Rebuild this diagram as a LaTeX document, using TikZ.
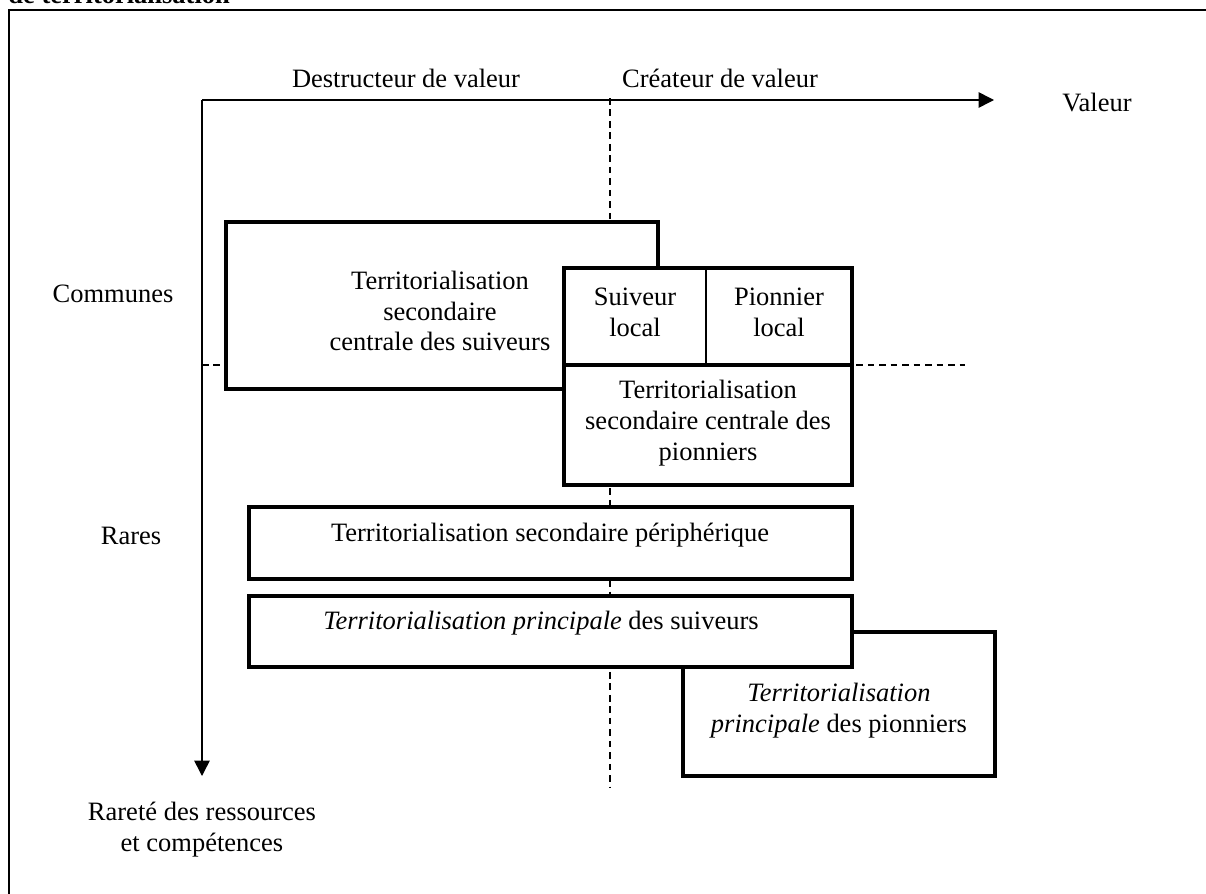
\documentclass[tikz,border=0pt]{standalone}
\usepackage{fontspec}
\setmainfont{Liberation Serif}
\usetikzlibrary{arrows.meta, positioning}

\tikzset{
  lbl/.style={font=\fontsize{12}{14}\selectfont, align=center, inner sep=0pt},
  box/.style={line width=1.4pt, fill=white},
  axis/.style={line width=0.7pt, -{Triangle[length=7pt,width=7pt]}},
  guide/.style={line width=0.5pt, dash pattern=on 3pt off 2.2pt}
}

\begin{document}
\begin{tikzpicture}[x=0.453pt, y=-0.453pt]
\useasboundingbox (0,0) rectangle (1206,893);
% frame and cut title
\draw[line width=0.9pt] (9,1000) -- (9,10) -- (1300,10);
\node[anchor=base west, inner sep=0pt, font=\fontsize{12}{14}\selectfont\bfseries] (title) at (8,4) {de territorialisation};

% axes
\coordinate (o) at (202,100);
\coordinate (xend) at (994,100);
\coordinate (yend) at (202,776);
\draw[axis] (o) -- (xend);
\draw[axis] (o) -- (yend);
\draw[guide] (610,98) -- (610,788);
\draw[guide] (202,365) -- (965,365);

% axis labels
\node[lbl] (destr) at (406,78) {Destructeur de valeur};
\node[lbl] (creat) at (720,78) {Créateur de valeur};
\node[lbl, anchor=west] (valeur) at (1062,103) {Valeur};
\node[lbl] (communes) at (113,294) {Communes};
\node[lbl] (rares) at (131,536) {Rares};
\node[lbl] (rarete) at (202,830) {Rareté des ressources\\et compétences};

% secondary, central
\draw[box] (226,222) rectangle (658,389);
\node[lbl] (secsuiv) at (440,311) {Territorialisation\\secondaire\\centrale des suiveurs};
\draw[box] (564,268) rectangle (852,485);
\draw[line width=1.4pt] (564,365) -- (852,365);
\draw[line width=0.5pt] (706,268) -- (706,365);
\node[lbl] (suivloc) at (635,312) {Suiveur\\local};
\node[lbl] (pionloc) at (779,312) {Pionnier\\local};
\node[lbl] (secpion) at (708,423) {Territorialisation\\secondaire centrale des\\pionniers};

% peripheral
\draw[box] (249,507) rectangle (852,579);
\node[lbl] (periph) at (550,535) {Territorialisation secondaire périphérique};

% principal
\draw[box] (683,632) rectangle (995,776);
\node[lbl] (princpion) at (839,711) {\textit{Territorialisation}\\\textit{principale} des pionniers};
\draw[box] (249,596) rectangle (852,667);
\node[lbl] (princsuiv) at (541,623) {\textit{Territorialisation principale} des suiveurs};
\end{tikzpicture}
\end{document}
